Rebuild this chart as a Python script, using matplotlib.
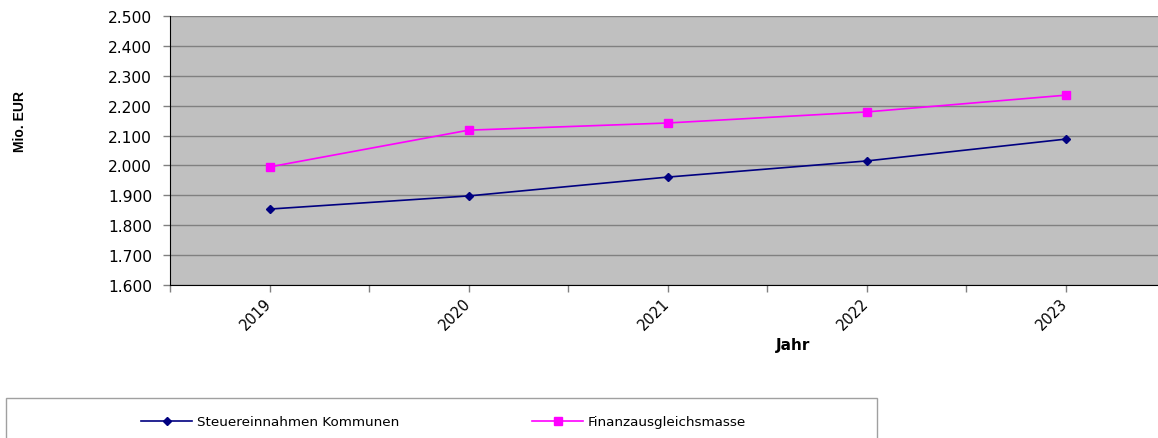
import matplotlib
matplotlib.use("Agg")
import matplotlib.pyplot as plt
from matplotlib.patches import Rectangle
from matplotlib.ticker import FuncFormatter, FixedLocator

plt.rcParams['font.family'] = ['DejaVu Sans']

years = ["2019", "2020", "2021", "2022", "2023"]
steuer = [1854, 1898, 1961, 2015, 2088]
fag = [1995, 2118, 2142, 2179, 2235]

W, H = 1158, 439
fig = plt.figure(figsize=(W / 100, H / 100), dpi=100)
ax = fig.add_axes([170 / W, 153 / H, 995 / W, 269 / H])
ax.set_facecolor("#C0C0C0")

x = list(range(len(years)))
l1, = ax.plot(x, steuer, color="#000080", lw=1.2, marker="D", ms=4.5,
              label="Steuereinnahmen Kommunen", zorder=3)
l2, = ax.plot(x, fag, color="#FF00FF", lw=1.2, marker="s", ms=5.5,
              label="Finanzausgleichsmasse", zorder=3)

ax.set_xlim(-0.5, len(years) - 0.5)
ax.set_ylim(1600, 2500)
ax.set_yticks(range(1600, 2501, 100))
ax.yaxis.set_major_formatter(FuncFormatter(lambda v, p: f"{int(v):,}".replace(",", ".")))
ax.set_xticks(x)
ax.set_xticklabels(years, rotation=45, ha="right", va="center", rotation_mode="anchor")
ax.xaxis.set_minor_locator(FixedLocator([i - 0.5 for i in range(len(years) + 1)]))

ax.grid(axis="y", color="#808080", lw=1)
ax.set_axisbelow(True)
for s in ["top", "right"]:
    ax.spines[s].set_visible(False)
ax.spines["left"].set_color("black")
ax.spines["bottom"].set_color("black")
ax.tick_params(axis="both", which="both", colors="#808080", labelcolor="black",
               length=5, width=1)
ax.tick_params(axis="y", labelsize=11.2, pad=8)
ax.tick_params(axis="x", labelsize=10.5, pad=6)

fig.text(793 / W, 1 - 346 / H, "Jahr", fontsize=11, fontweight="bold",
         ha="center", va="center")
fig.text(20 / W, 1 - 122 / H, "Mio. EUR", fontsize=10, fontweight="bold",
         family="Liberation Sans", rotation=90, ha="center", va="center")

# legend box
fig.patches.append(Rectangle((6 / W, -0.1), 871 / W, 0.1 + (H - 399) / H,
                             transform=fig.transFigure, fill=False,
                             edgecolor="#A0A0A0", lw=1))
for handle, x0 in [(l1, 141), (l2, 532)]:
    fig.legend(handles=[handle], loc="center left",
               bbox_to_anchor=(x0 / W, (H - 423) / H), frameon=False,
               borderpad=0, borderaxespad=0, handlelength=3.8,
               handletextpad=0.35, fontsize=9.7)

fig.savefig("out.png", dpi=100)
